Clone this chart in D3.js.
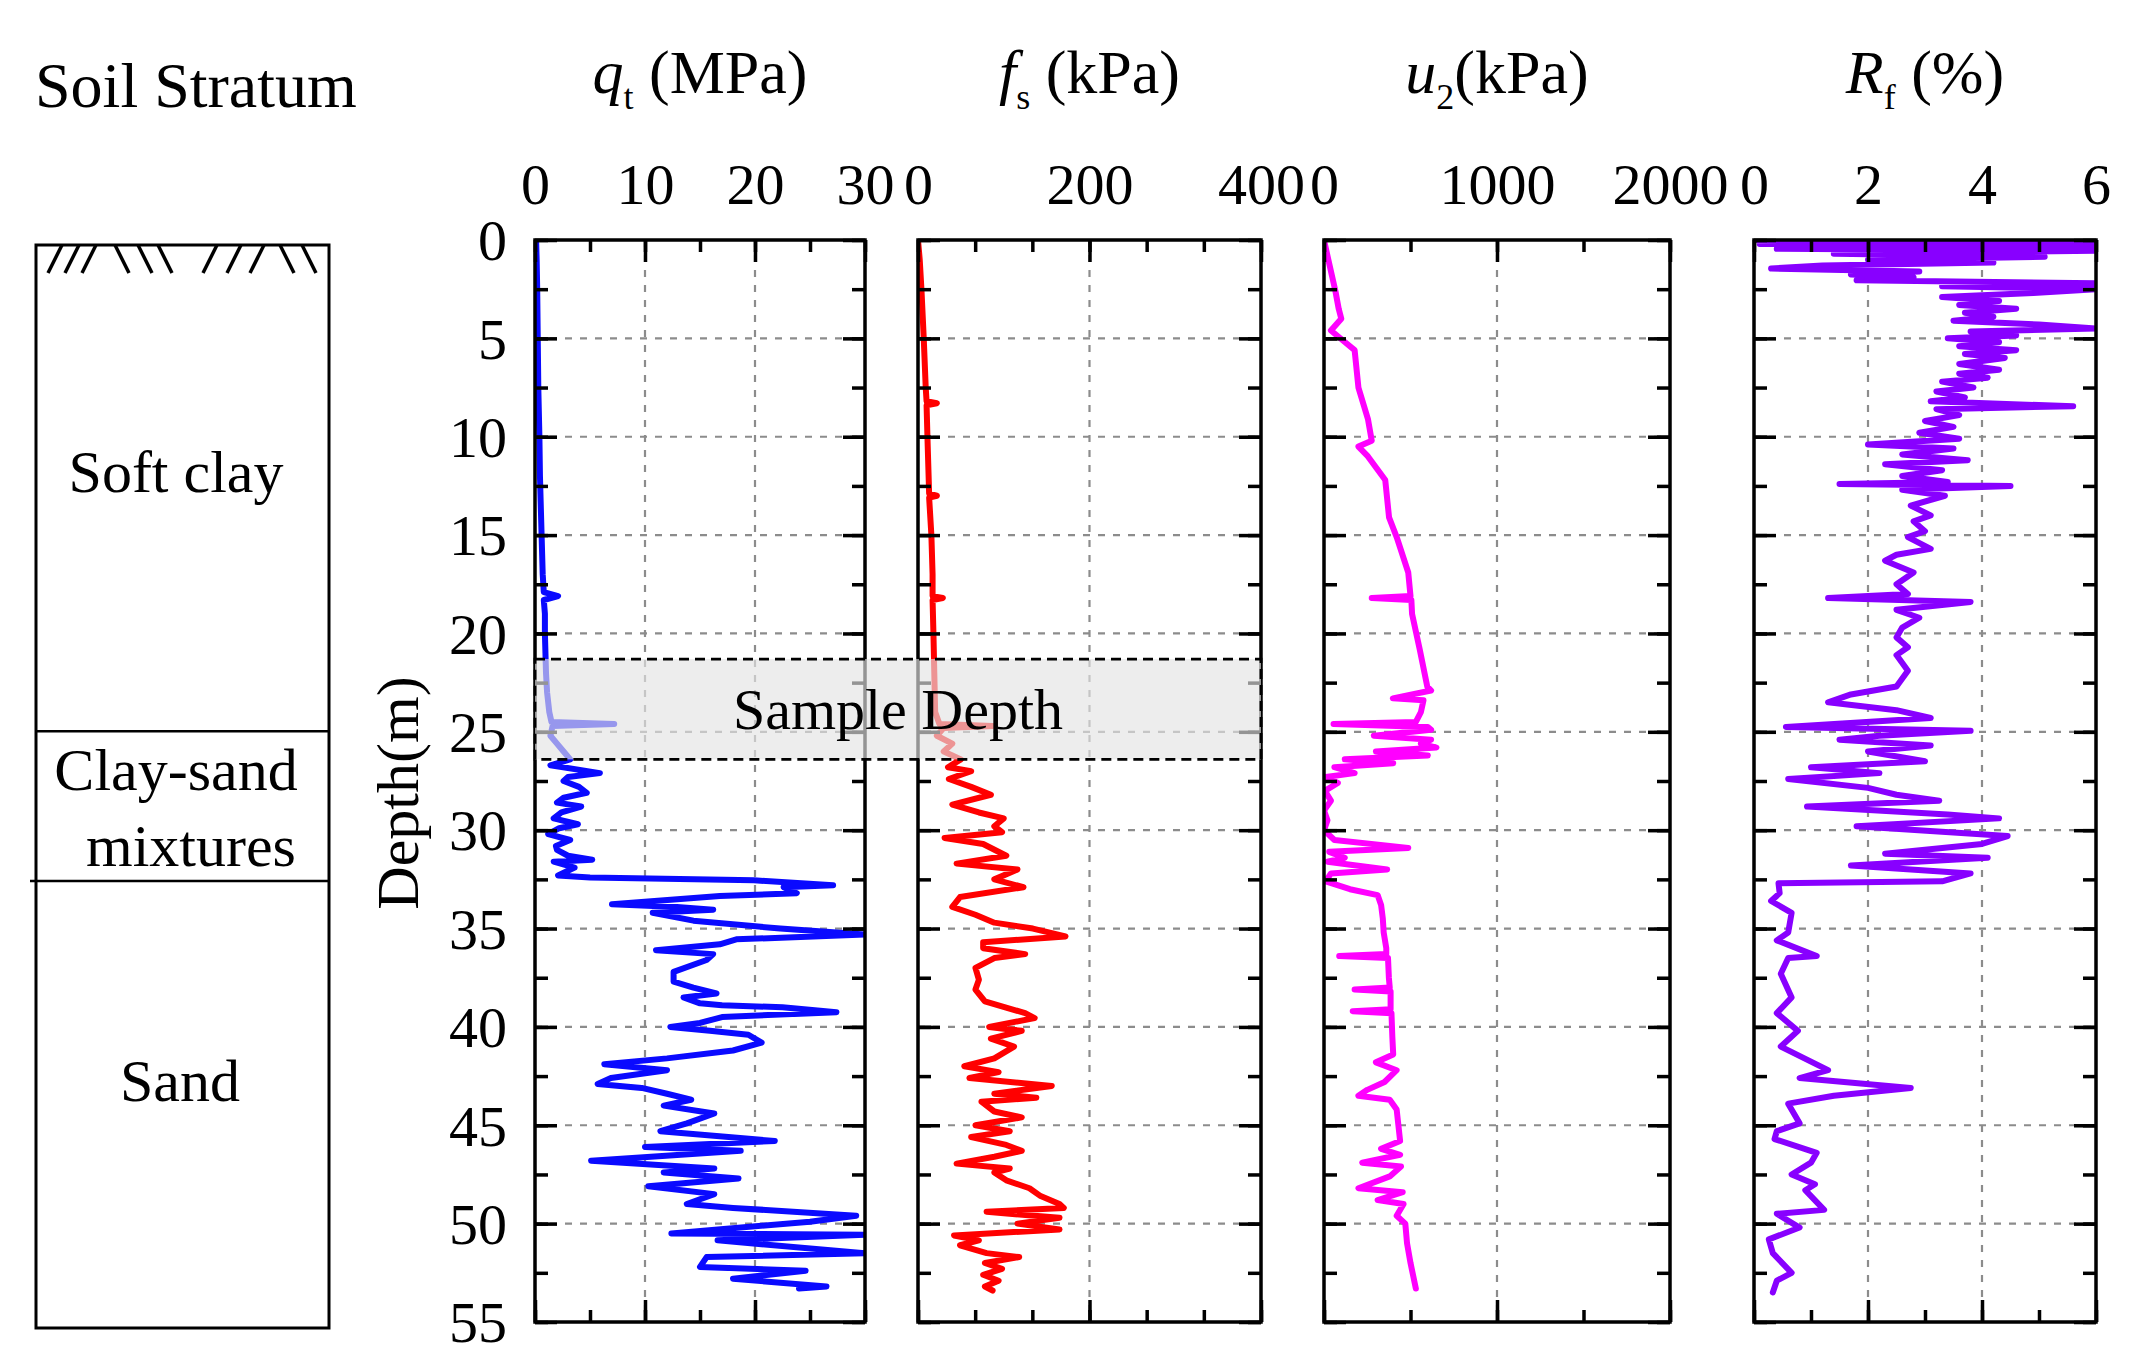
<!DOCTYPE html>
<html>
<head>
<meta charset="utf-8">
<script src="https://cdn.jsdelivr.net/npm/d3@7"></script>
<style>
  html, body { margin: 0; padding: 0; background: #fff; }
  svg text { font-family: "Liberation Serif", "Times New Roman", serif; fill: #000; }
</style>
</head>
<body>
<div id="wrapper"></div>
<script>
// ---- DATA: [depth (m), value] ----
const qtProfile = [
  [0,0.1],[1,0.15],[2.5,0.2],[5,0.25],[7.5,0.3],[10,0.4],[12,0.45],[15,0.6],[17,0.7],[17.9,0.8],
  [18.1,2.1],[18.3,0.8],[19,0.9],[20,0.9],[21,0.95],[22,1.0],[23,1.1],[24,1.3],[24.5,1.5],[24.6,7.2],
  [24.7,1.6],[25.2,1.4],[25.6,2.0],[26,2.6],[26.4,3.2],[26.7,1.4],[27.1,5.9],[27.3,3.0],[27.5,2.6],[27.8,4.0],
  [28.1,4.7],[28.35,2.6],[28.6,2.0],[28.8,4.2],[29.1,2.4],[29.4,1.7],[29.7,3.9],[29.9,2.2],[30.2,1.2],[30.5,3.2],
  [30.8,1.9],[31.0,2.0],[31.3,3.0],[31.5,5.2],[31.6,1.7],[31.9,3.6],[32.3,2.1],[32.4,5],[32.55,19.9],[32.8,27.1],
  [32.9,22.6],[33.2,23.8],[33.35,16.8],[33.77,7.0],[33.9,12.9],[34.05,16.2],[34.2,10.7],[34.6,14.4],[35.0,22.3],[35.3,30],
  [35.55,18.3],[35.8,16.8],[36.1,11],[36.3,16.2],[36.6,15.6],[37.2,12.6],[37.7,12.6],[38.0,14.4],[38.3,16.5],[38.5,13.5],
  [38.8,15],[38.9,17],[39.0,22.5],[39.25,27.4],[39.5,17],[39.8,15],[40.0,12.3],
  [40.2,15.9],[40.4,19.4],[40.8,20.6],[41.2,18],[41.6,12],[41.9,6.3],[42.2,12],[42.6,6.9],[42.9,5.7],[43.1,9.7],
  [43.4,12],[43.7,14.2],[44.0,11.7],[44.4,16.3],[44.9,13.8],[45.3,11.4],[45.8,21.8],[46.1,10],[46.3,18.7],[46.8,5.1],
  [47.2,16.3],[47.4,11.7],[47.7,18.5],[48.1,10.3],[48.5,16.3],[49.0,13.8],[49.2,18],[49.6,29.2],[49.9,25],[50.5,12.4],
  [50.56,30],[50.85,16.6],[51.5,30],[51.7,15.6],[52.2,15],[52.4,24.6],[52.8,18],[53.2,26.5],[53.3,24]
];

const fsProfile = [
  [0,0],[1,2],[2.5,4],[5,6.7],[7.5,9],[8.2,10],[8.3,22],[8.4,10],[10,11],[12.9,13],
  [13,22],[13.1,13],[15,15.6],[17,17],[18.1,17],[18.2,29],[18.3,17],[20,18],[22,19],[24,20],
  [24.6,25],[24.7,87],[24.8,30],[25.2,22],[25.6,40],[26,30],[26.4,50],[26.8,35],[27.0,62],[27.4,36],
  [27.8,62],[28.2,85],[28.7,40],[29.1,71],[29.4,100],[29.8,89],[30.1,98],[30.4,31],[30.7,76],[31.3,103],
  [31.7,45],[32.0,116],[32.5,89],[32.9,123],[33.4,49],[33.9,40],[34.3,67],[34.7,89],[35.0,134],[35.4,172],
  [35.7,76],[36.0,76],[36.3,125],[36.5,89],[37.0,67],[37.6,71],[38.1,67],[38.7,78],[39.3,125],[39.55,136],
  [40.0,83],[40.2,121],[40.6,85],[41.0,112],[41.6,89],[42.0,54],[42.3,94],[42.6,60],[43.0,156],[43.4,89],
  [43.6,138],[43.8,74],[44.3,89],[44.6,121],[45.0,67],[45.3,107],[45.6,62],[46.0,103],[46.3,121],[46.6,89],
  [46.95,45],[47.2,107],[47.4,89],[47.8,103],[48.2,130],[48.6,143],[49.0,165],[49.2,170],[49.4,80],[49.7,165],
  [50.0,116],[50.3,165],[50.6,42],[50.85,71],[51.1,49],[51.5,80],[51.7,118],[52.0,78],[52.3,98],[52.6,76],
  [52.9,94],[53.2,78],[53.4,87]
];

const u2Profile = [
  [0,0],[1,25],[2.6,66],[3.5,85],[4.0,100],[4.6,40],[5.2,122],[5.6,177],[7.5,199],[9.1,254],
  [10.2,276],[10.5,199],[11,254],[12.2,354],[14.1,376],[15.1,420],[16.9,487],[18.1,500],[18.2,276],[18.3,505],
  [19,509],[20.8,553],[22.7,597],[22.9,619],[23.3,398],[23.4,575],[24,560],[24.5,531],[24.6,55],[24.75,600],
  [24.9,619],[25.2,288],[25.4,619],[25.6,560],[25.8,650],[26.0,300],[26.2,600],[26.4,120],[26.6,400],[26.8,60],
  [27.1,177],[27.3,10],[27.6,80],[28,5],[28.5,40],[29,0],[29.5,20],[30,0],[30.5,60],[30.9,487],
  [31.1,30],[31.4,120],[31.6,20],[32.0,365],[32.2,40],[32.6,10],[33.0,150],[33.3,310],[33.8,330],[34.5,340],
  [35.2,345],[36.0,360],[36.3,360],[36.4,88],[36.5,370],[37.5,375],[38.0,380],[38.1,177],[38.2,385],[39.1,385],
  [39.2,166],[39.3,390],[40.5,395],[41.4,400],[41.8,300],[42.2,420],[42.8,350],[43.2,250],[43.5,199],[43.7,380],
  [44.2,420],[45.0,430],[45.8,440],[46.2,330],[46.5,440],[46.9,221],[47.1,445],[47.6,380],[48.2,199],[48.4,455],
  [48.8,310],[49.0,460],[49.6,420],[50.0,470],[51,480],[52,500],[53.3,531]
];

const rfProfile = [
  [0,0],[0.1,6],[0.2,0.1],[0.3,6],[0.45,0.4],[0.55,6],[0.7,1.4],[0.85,5.1],[1.0,2.0],[1.15,4.2],
  [1.3,1.2],[1.45,0.3],[1.6,2.9],[1.75,1.7],[1.9,2.8],[2.05,1.8],[2.2,6],[2.35,3.3],[2.5,6],[2.7,4.9],
  [2.9,3.3],[3.1,4.3],[3.3,3.6],[3.5,4.6],[3.7,3.7],[3.9,4.2],[4.1,3.5],[4.3,5.0],[4.5,6],[4.65,3.8],
  [4.85,4.6],[5.0,3.4],[5.2,4.3],[5.4,3.6],[5.6,4.6],[5.8,3.7],[6.0,4.4],[6.3,3.6],[6.6,4.3],[6.8,3.6],
  [7.0,4.1],[7.2,3.3],[7.5,3.85],[7.7,3.2],[8.0,3.7],[8.2,3.1],[8.45,5.6],[8.6,3.2],[8.9,3.6],[9.2,3.0],
  [9.5,3.5],[9.8,2.9],[10.1,3.6],[10.4,2.0],[10.6,3.5],[10.9,2.6],[11.2,3.75],[11.4,2.3],[11.7,3.3],[12.0,2.6],
  [12.3,3.4],[12.4,1.5],[12.5,4.5],[12.7,2.6],[13.0,3.35],[13.5,2.75],[14.0,3.1],[14.3,2.8],[14.8,3.0],[15.1,2.7],
  [15.7,3.1],[16.0,2.5],[16.3,2.3],[16.9,2.8],[17.5,2.5],[18.0,2.7],[18.2,1.3],[18.4,3.8],[18.8,2.5],[19.2,2.9],
  [19.7,2.6],[20.2,2.5],[20.7,2.7],[21.1,2.5],[21.9,2.7],[22.7,2.5],[23.1,1.7],[23.5,1.3],[23.9,2.5],[24.3,3.1],
  [24.75,0.56],[24.95,3.8],[25.2,2.2],[25.4,1.5],[25.7,3.1],[26.0,2.0],[26.5,3.0],[26.8,1.0],[27.1,2.2],[27.4,0.6],
  [27.85,2.0],[28.2,2.5],[28.5,3.25],[28.8,0.93],[29.2,3.4],[29.4,4.3],[29.8,1.8],[30.3,4.45],[30.7,4.0],[31.2,2.3],
  [31.4,4.1],[31.8,1.7],[32.2,3.8],[32.6,3.3],[32.7,0.43],[33.2,0.45],[33.6,0.3],[34.2,0.66],[35.2,0.6],[35.6,0.4],
  [36.4,1.1],[36.5,0.6],[37.3,0.47],[38.5,0.66],[39.3,0.4],[40.2,0.77],[41.0,0.47],[42.2,1.3],[42.6,0.8],[43.1,2.75],
  [43.5,1.4],[43.9,0.6],[44.9,0.8],[45.3,0.4],[45.7,0.36],[46.4,1.1],[46.9,1.0],[47.5,0.66],[48.0,1.07],[48.3,0.9],
  [49.3,1.23],[49.5,0.4],[50.2,0.8],[50.8,0.26],[51.5,0.33],[52.5,0.66],[52.9,0.4],[53.5,0.33]
];

// soil layers (depth in m)
const layerNames = ["Soft clay", "Clay-sand mixtures", "Sand"];
const layerBounds = [0, 24.7, 32.3, 55];

// tick labels
const depthTicks = [0, 5, 10, 15, 20, 25, 30, 35, 40, 45, 50, 55];
const qtTicks = [0, 10, 20, 30];
const fsTicks = [0, 200, 400];
const u2Ticks = [0, 1000, 2000];
const rfTicks = [0, 2, 4, 6];

// sample depth window (m)
const sampleRange = [21.3, 26.4];

/* DIMENSIONS */
const width = 2143;
const height = 1366;
const plotTop = 240;
const plotBottom = 1322;

const yScale = d3.scaleLinear().domain([0, 55]).range([plotTop, plotBottom]);

const svg = d3.select("#wrapper")
  .append("svg")
  .attr("width", width)
  .attr("height", height);

const panels = [
  { id: "qt", data: qtProfile, domain: [0, 30], left: 535, right: 865, color: "#0a0aff",
    labels: qtTicks, minor: d3.range(0, 31, 5), major: [0, 10, 20, 30], grid: [10, 20],
    sym: "q", sub: "t", unit: " (MPa)" },
  { id: "fs", data: fsProfile, domain: [0, 400], left: 918, right: 1261, color: "#ff0000",
    labels: fsTicks, minor: d3.range(0, 7).map(i => i * 400 / 6), major: [0, 200, 400], grid: [200],
    sym: "f", sub: "s", unit: " (kPa)" },
  { id: "u2", data: u2Profile, domain: [0, 2000], left: 1324, right: 1670, color: "#ff00ff",
    labels: u2Ticks, minor: d3.range(0, 2001, 500), major: [0, 1000, 2000], grid: [1000],
    sym: "u", sub: "2", unit: "(kPa)" },
  { id: "rf", data: rfProfile, domain: [0, 6], left: 1754, right: 2096, color: "#8800ff",
    labels: rfTicks, minor: d3.range(0, 7, 1), major: [0, 2, 4, 6], grid: [2, 4],
    sym: "R", sub: "f", unit: " (%)" }
];

const defs = svg.append("defs");

panels.forEach((p, idx) => {
  const x = d3.scaleLinear().domain(p.domain).range([p.left, p.right]);
  const g = svg.append("g").attr("class", "panel-" + p.id);

  defs.append("clipPath").attr("id", "clip-" + p.id)
    .append("rect")
    .attr("x", p.left).attr("y", plotTop)
    .attr("width", p.right - p.left).attr("height", plotBottom - plotTop);

  // grid
  g.append("g").selectAll("line")
    .data(d3.range(5, 55, 5))
    .join("line")
    .attr("x1", p.left).attr("x2", p.right)
    .attr("y1", d => yScale(d)).attr("y2", d => yScale(d))
    .attr("stroke", "#8c8c8c").attr("stroke-width", 2.2).attr("stroke-dasharray", "7,8");
  g.append("g").selectAll("line")
    .data(p.grid)
    .join("line")
    .attr("x1", d => x(d)).attr("x2", d => x(d))
    .attr("y1", plotTop).attr("y2", plotBottom)
    .attr("stroke", "#8c8c8c").attr("stroke-width", 2.2).attr("stroke-dasharray", "7,8");

  // profile
  const lineGen = d3.line().x(d => x(d[1])).y(d => yScale(d[0]));
  g.append("path")
    .attr("d", lineGen(p.data))
    .attr("clip-path", "url(#clip-" + p.id + ")")
    .attr("fill", "none")
    .attr("stroke", p.color)
    .attr("stroke-width", 6)
    .attr("stroke-linejoin", "round")
    .attr("stroke-linecap", "round");

  // ticks (inward)
  const addAxis = (axis, tx, ty) => {
    g.append("g")
      .attr("transform", `translate(${tx},${ty})`)
      .call(axis)
      .call(s => s.select(".domain").remove())
      .call(s => s.selectAll(".tick line").attr("stroke", "#000").attr("stroke-width", 3.5));
  };
  addAxis(d3.axisTop(x).tickValues(p.minor).tickSize(-12).tickFormat(""), 0, plotTop);
  addAxis(d3.axisBottom(x).tickValues(p.minor).tickSize(-12).tickFormat(""), 0, plotBottom);
  addAxis(d3.axisBottom(x).tickValues(p.major).tickSize(-22).tickFormat(""), 0, plotBottom);
  addAxis(d3.axisLeft(yScale).tickValues(d3.range(0, 55.1, 2.5)).tickSize(-13).tickFormat(""), p.left, 0);
  addAxis(d3.axisRight(yScale).tickValues(d3.range(0, 55.1, 2.5)).tickSize(-13).tickFormat(""), p.right, 0);
  addAxis(d3.axisRight(yScale).tickValues(depthTicks).tickSize(-22).tickFormat(""), p.right, 0);

  // top axis with labels
  g.append("g")
    .attr("transform", `translate(0,${plotTop})`)
    .call(d3.axisTop(x).tickValues(p.major).tickSize(-22).tickPadding(36).tickFormat(d3.format("d")))
    .call(s => s.select(".domain").remove())
    .call(s => s.selectAll(".tick line").attr("stroke", "#000").attr("stroke-width", 3.5))
    .call(s => s.selectAll(".tick text")
      .attr("font-family", "Liberation Serif, Times New Roman, serif")
      .attr("font-size", 58).attr("fill", "#000"));

  // left axis with depth labels on the first panel only
  g.append("g")
    .attr("transform", `translate(${p.left},0)`)
    .call(d3.axisLeft(yScale).tickValues(depthTicks).tickSize(-22).tickPadding(28)
      .tickFormat(idx === 0 ? d3.format("d") : ""))
    .call(s => s.select(".domain").remove())
    .call(s => s.selectAll(".tick line").attr("stroke", "#000").attr("stroke-width", 3.5))
    .call(s => s.selectAll(".tick text")
      .attr("font-family", "Liberation Serif, Times New Roman, serif")
      .attr("font-size", 58).attr("fill", "#000").attr("dy", "0.34em"));

  // frame
  g.append("rect")
    .attr("x", p.left).attr("y", plotTop)
    .attr("width", p.right - p.left).attr("height", plotBottom - plotTop)
    .attr("fill", "none").attr("stroke", "#000").attr("stroke-width", 3.5);

  // title
  const title = svg.append("text")
    .attr("x", (p.left + p.right) / 2)
    .attr("y", 93)
    .attr("text-anchor", "middle")
    .attr("font-size", 62);
  title.append("tspan").attr("font-style", "italic").text(p.sym);
  title.append("tspan").attr("font-size", 36).attr("dy", 16).text(p.sub);
  title.append("tspan").attr("dy", -16).text(p.unit);
});

/* SAMPLE DEPTH WINDOW */
const sampleG = svg.append("g");
sampleG.append("rect")
  .attr("x", panels[0].left)
  .attr("y", yScale(sampleRange[0]))
  .attr("width", panels[1].right - panels[0].left)
  .attr("height", yScale(sampleRange[1]) - yScale(sampleRange[0]))
  .attr("fill", "#e4e4e4")
  .attr("fill-opacity", 0.65)
  .attr("stroke", "#000")
  .attr("stroke-width", 2.8)
  .attr("stroke-dasharray", "10,6");
sampleG.append("text")
  .attr("x", (panels[0].left + panels[1].right) / 2)
  .attr("y", yScale((sampleRange[0] + sampleRange[1]) / 2))
  .attr("dy", "0.35em")
  .attr("text-anchor", "middle")
  .attr("font-size", 58)
  .text("Sample Depth");

/* DEPTH LABEL */
svg.append("text")
  .attr("transform", "translate(418,793) rotate(-90)")
  .attr("text-anchor", "middle")
  .attr("font-size", 60)
  .text("Depth(m)");

/* SOIL STRATUM COLUMN */
const soil = { left: 36, right: 329, top: 245, bottom: 1328 };
const soilY = d3.scaleLinear().domain([0, 55]).range([soil.top, soil.bottom]);

svg.append("text")
  .attr("x", 35).attr("y", 107)
  .attr("font-size", 64)
  .text("Soil Stratum");

svg.append("rect")
  .attr("x", soil.left).attr("y", soil.top)
  .attr("width", soil.right - soil.left).attr("height", soil.bottom - soil.top)
  .attr("fill", "none").attr("stroke", "#000").attr("stroke-width", 3);

svg.append("g").selectAll("line")
  .data(layerBounds.slice(1, -1))
  .join("line")
  .attr("x1", (d, i) => soil.left - (i === 1 ? 6 : 0)).attr("x2", soil.right)
  .attr("y1", d => soilY(d)).attr("y2", d => soilY(d))
  .attr("stroke", "#000").attr("stroke-width", 2.5);

// ground-surface hatching: [x at top, lean] groups of ///  \\\  ///  \\
const hatchTops = [
  [62, -1], [79, -1], [96, -1],
  [115, 1], [138, 1], [158, 1],
  [217, -1], [241, -1], [264, -1],
  [280, 1], [302, 1]
];
svg.append("g").selectAll("line")
  .data(hatchTops)
  .join("line")
  .attr("x1", d => d[0]).attr("y1", soil.top)
  .attr("x2", d => d[0] + d[1] * 14).attr("y2", soil.top + 28)
  .attr("stroke", "#000").attr("stroke-width", 3.5);

const soilText = svg.append("g").attr("font-size", 60).attr("text-anchor", "middle");
soilText.append("text").attr("x", 176).attr("y", 492).text(layerNames[0]);
soilText.append("text").attr("x", 176).attr("y", 790).text("Clay-sand");
soilText.append("text").attr("x", 191).attr("y", 866).text("mixtures");
soilText.append("text").attr("x", 180).attr("y", 1101).text(layerNames[2]);
</script>
</body>
</html>
